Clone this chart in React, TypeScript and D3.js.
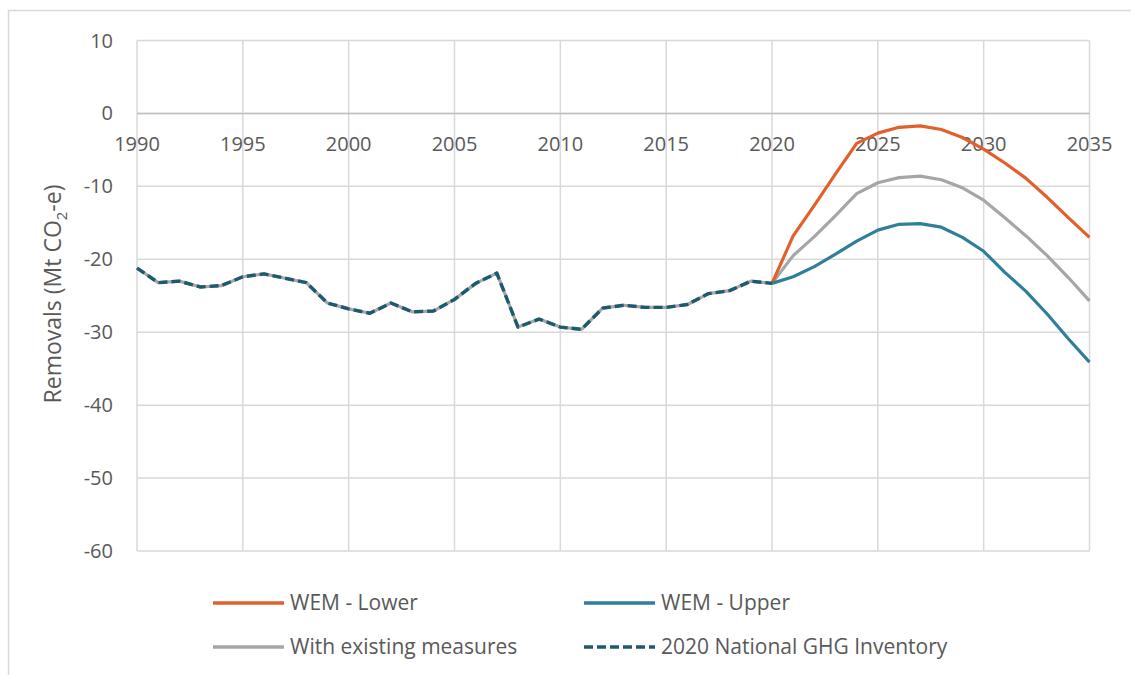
import React from "react";
import * as d3 from "d3";

const histYears = d3.range(1990, 2021);
const inventory = [
  -21.2, -23.2, -23.0, -23.8, -23.6, -22.4, -22.0, -22.6, -23.2, -26.0,
  -26.8, -27.4, -26.0, -27.2, -27.1, -25.5, -23.3, -21.9, -29.3, -28.2,
  -29.3, -29.6, -26.7, -26.3, -26.6, -26.6, -26.2, -24.7, -24.3, -23.0,
  -23.3,
];
const projYears = d3.range(2020, 2036);
const wemLower = [
  -23.3, -16.8, -12.6, -8.3, -4.1, -2.7, -1.9, -1.7, -2.2, -3.3, -4.9, -6.8,
  -8.9, -11.5, -14.3, -17.0,
];
const wem = [
  -23.3, -19.5, -16.9, -14.0, -11.0, -9.5, -8.8, -8.6, -9.1, -10.2, -11.9,
  -14.3, -16.8, -19.5, -22.5, -25.7,
];
const wemUpper = [
  -23.3, -22.4, -21.0, -19.3, -17.5, -16.0, -15.2, -15.1, -15.6, -17.0, -18.9,
  -21.8, -24.4, -27.5, -30.9, -34.1,
];
const xTicks = [1990, 1995, 2000, 2005, 2010, 2015, 2020, 2025, 2030, 2035];
const yTicks = [10, 0, -10, -20, -30, -40, -50, -60];

const C_ORANGE = "#E2602B";
const C_BLUE = "#2F7F9B";
const C_GRAY = "#A6A6A6";
const C_TEAL = "#1C5A6F";
const TXT = "#595959";
const FONT = "'Open Sans', sans-serif";

export default function App() {
  const left = 137, right = 1089.5, top = 40.5, bottom = 551;
  const x = d3.scaleLinear().domain([1990, 2035]).range([left, right]);
  const y = d3.scaleLinear().domain([-60, 10]).range([bottom, top]);
  const line = d3
    .line<[number, number]>()
    .x((d) => x(d[0]))
    .y((d) => y(d[1]));
  const gray = line([
    ...histYears.map((yr, i) => [yr, inventory[i]] as [number, number]),
    ...projYears.slice(1).map((yr, i) => [yr, wem[i + 1]] as [number, number]),
  ]);
  const orange = line(projYears.map((yr, i) => [yr, wemLower[i]] as [number, number]));
  const blue = line(projYears.map((yr, i) => [yr, wemUpper[i]] as [number, number]));
  const inv = line(histYears.map((yr, i) => [yr, inventory[i]] as [number, number]));

  const legend = [
    { label: "WEM - Lower", color: C_ORANGE, dash: undefined, lx: 213, ly: 603 },
    { label: "WEM - Upper", color: C_BLUE, dash: undefined, lx: 584, ly: 603 },
    { label: "With existing measures", color: C_GRAY, dash: undefined, lx: 213, ly: 647 },
    { label: "2020 National GHG Inventory", color: C_TEAL, dash: "9,4", lx: 584, ly: 647 },
  ];

  return (
    <svg
      width={1131}
      height={675}
      style={{ position: "absolute", left: 0, top: 0, background: "#fff" }}
      fontFamily={FONT}
    >
      <rect x={8.5} y={10.5} width={1140} height={700} fill="#fff" stroke="#D9D9D9" strokeWidth={1.5} />
      {/* grid */}
      {yTicks.map((t) => (
        <line key={"gy" + t} x1={left} x2={right} y1={y(t)} y2={y(t)} stroke="#D9D9D9" strokeWidth={1.5} />
      ))}
      {xTicks.map((t) => (
        <line key={"gx" + t} x1={x(t)} x2={x(t)} y1={top} y2={bottom} stroke="#D9D9D9" strokeWidth={1.5} />
      ))}
      <line x1={left} x2={right} y1={y(0)} y2={y(0)} stroke="#BFBFBF" strokeWidth={1.5} />
      {/* y labels */}
      {yTicks.map((t) => (
        <text key={"ty" + t} x={113} y={y(t)} dy="0.35em" textAnchor="end" fontSize={20} fill={TXT}>
          {t}
        </text>
      ))}
      {xTicks.map((t) => (
        <text key={"tx" + t} x={x(t)} y={144} dy="0.35em" textAnchor="middle" fontSize={20} fill={TXT}>
          {t}
        </text>
      ))}
      <text transform="translate(61,294) rotate(-90)" textAnchor="middle" fontSize={23} fill={TXT}>
        Removals (Mt CO<tspan fontSize={15} dy={6}>2</tspan>
        <tspan dy={-6}>-e)</tspan>
      </text>
      {/* series */}
      <path d={gray ?? ""} fill="none" stroke={C_GRAY} strokeWidth={3.2} strokeLinejoin="round" />
      <path d={orange ?? ""} fill="none" stroke={C_ORANGE} strokeWidth={3.2} strokeLinejoin="round" />
      <path d={blue ?? ""} fill="none" stroke={C_BLUE} strokeWidth={3.2} strokeLinejoin="round" />
      <path d={inv ?? ""} fill="none" stroke={C_TEAL} strokeWidth={3.4} strokeDasharray="9,4" strokeLinejoin="round" />
      {/* legend */}
      {legend.map((l) => (
        <g key={l.label}>
          <line x1={l.lx} x2={l.lx + 71} y1={l.ly} y2={l.ly} stroke={l.color} strokeWidth={3.4} strokeDasharray={l.dash} />
          <text x={l.lx + 77} y={l.ly} dy="0.35em" fontSize={21} fill={TXT}>
            {l.label}
          </text>
        </g>
      ))}
    </svg>
  );
}
